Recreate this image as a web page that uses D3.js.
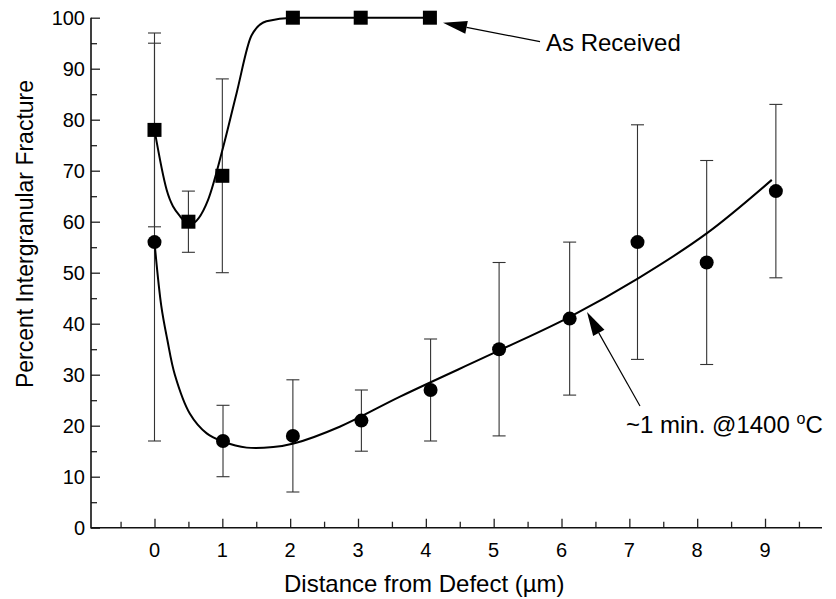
<!DOCTYPE html>
<html>
<head>
<meta charset="utf-8">
<script src="https://cdn.jsdelivr.net/npm/d3@7"></script>
<style>
  body { margin: 0; background: #fff; }
  text { font-family: 'Liberation Sans', Arial, Helvetica, sans-serif; fill: #000; }
</style>
</head>
<body>
<div id="chart"></div>
<script>
// "As Received" squares
const asRecX = [0, 0.5, 1.0, 2.04, 3.04, 4.06]
const asRecY = [78, 60, 69, 100, 100, 100]
const asRecLo = [59, 54, 50, null, null, null]
const asRecHi = [97, 66, 88, null, null, null]

// "~1 min @1400 C" circles
const heatX = [0, 1.01, 2.04, 3.05, 4.07, 5.08, 6.12, 7.12, 8.14, 9.16]
const heatY = [56, 17, 18, 21, 27, 35, 41, 56, 52, 66]
const heatLo = [17, 10, 7, 15, 17, 18, 26, 33, 32, 49]
const heatHi = [95, 24, 29, 27, 37, 52, 56, 79, 72, 83]

// fitted curves
const asRecFitX = [0, 0.18, 0.38, 0.52, 0.79, 1.01, 1.21, 1.43, 1.65, 2.04, 3.04, 4.06]
const asRecFitY = [78, 66.2, 61, 59.5, 64.3, 74.5, 85.2, 96.5, 99.3, 100, 100, 100]
const heatFitX = [0, 0.1, 0.19, 0.3, 0.52, 0.77, 1.01, 1.36, 1.75, 2.05, 2.73, 3.62, 5.09, 6.13, 7.13, 8.14, 9.1]
const heatFitY = [56, 43.5, 36.8, 30, 22.4, 18.5, 16.9, 15.7, 15.8, 16.5, 19.8, 25.7, 34.8, 41.4, 48.9, 57.7, 68.2]

const xTicks = [0, 1, 2, 3, 4, 5, 6, 7, 8, 9]
const xMinor = [-0.5, 0.5, 1.5, 2.5, 3.5, 4.5, 5.5, 6.5, 7.5, 8.5, 9.5]
const yTicks = [0, 10, 20, 30, 40, 50, 60, 70, 80, 90, 100]
const yMinor = [5, 15, 25, 35, 45, 55, 65, 75, 85, 95]

const width = 836
const height = 599

const svg = d3
  .select('#chart')
  .append('svg')
  .attr('width', width)
  .attr('height', height)

const x = d3.scaleLinear().domain([-0.936, 9.84]).range([91, 822])
const y = d3.scaleLinear().domain([0, 100]).range([527.7, 17.7])

// axes
const xAxis = svg.append('g').attr('transform', `translate(0,${y(0)})`)
xAxis
  .call(d3.axisTop(x).tickValues(xTicks).tickSize(9).tickFormat(''))
  .call(g => g.select('.domain').remove())
xAxis
  .append('g')
  .call(d3.axisTop(x).tickValues(xMinor).tickSize(6).tickFormat(''))
  .call(g => g.select('.domain').remove())
xAxis.selectAll('line').attr('stroke', '#222').attr('stroke-width', 1.3)

svg
  .selectAll('.xlab')
  .data(xTicks)
  .enter()
  .append('text')
  .attr('class', 'xlab')
  .attr('x', d => x(d))
  .attr('y', 557)
  .attr('text-anchor', 'middle')
  .attr('font-size', 20)
  .text(d => d)

const yAxis = svg.append('g').attr('transform', `translate(${x.range()[0]},0)`)
yAxis
  .call(d3.axisRight(y).tickValues(yTicks).tickSize(9).tickFormat(''))
  .call(g => g.select('.domain').remove())
yAxis
  .append('g')
  .call(d3.axisRight(y).tickValues(yMinor).tickSize(6).tickFormat(''))
  .call(g => g.select('.domain').remove())
yAxis.selectAll('line').attr('stroke', '#222').attr('stroke-width', 1.3)

svg
  .selectAll('.ylab')
  .data(yTicks)
  .enter()
  .append('text')
  .attr('class', 'ylab')
  .attr('x', 85)
  .attr('y', d => y(d) + 7)
  .attr('text-anchor', 'end')
  .attr('font-size', 20)
  .text(d => d)

// axis lines
svg
  .append('path')
  .attr('d', `M${x.range()[0]},${y(100)}V${y(0)}H${x.range()[1]}`)
  .attr('fill', 'none')
  .attr('stroke', '#111')
  .attr('stroke-width', 1.6)

svg
  .append('text')
  .attr('x', 284)
  .attr('y', 592)
  .attr('font-size', 24)
  .text('Distance from Defect (\u00b5m)')

svg
  .append('text')
  .attr('transform', 'translate(33,234) rotate(-90)')
  .attr('text-anchor', 'middle')
  .attr('font-size', 23)
  .text('Percent Intergranular Fracture')

// error bars
function errorBars(xs, lo, hi) {
  const rows = xs.map((d, i) => ({ x: d, lo: lo[i], hi: hi[i] })).filter(d => d.lo != null)
  const g = svg.append('g').attr('stroke', '#333').attr('stroke-width', 1.1)
  g.selectAll('.bar')
    .data(rows)
    .enter()
    .append('line')
    .attr('x1', d => x(d.x))
    .attr('x2', d => x(d.x))
    .attr('y1', d => y(d.lo))
    .attr('y2', d => y(d.hi))
  g.selectAll('.capl')
    .data(rows)
    .enter()
    .append('line')
    .attr('x1', d => x(d.x) - 6.5)
    .attr('x2', d => x(d.x) + 6.5)
    .attr('y1', d => y(d.lo))
    .attr('y2', d => y(d.lo))
  g.selectAll('.caph')
    .data(rows)
    .enter()
    .append('line')
    .attr('x1', d => x(d.x) - 6.5)
    .attr('x2', d => x(d.x) + 6.5)
    .attr('y1', d => y(d.hi))
    .attr('y2', d => y(d.hi))
}
errorBars(asRecX, asRecLo, asRecHi)
errorBars(heatX, heatLo, heatHi)

// fitted curves
const line = d3
  .line()
  .x(d => x(d[0]))
  .y(d => y(d[1]))
  .curve(d3.curveMonotoneX)

svg
  .append('path')
  .datum(asRecFitX.map((d, i) => [d, asRecFitY[i]]))
  .attr('d', line)
  .attr('fill', 'none')
  .attr('stroke', '#000')
  .attr('stroke-width', 2)

svg
  .append('path')
  .datum(heatFitX.map((d, i) => [d, heatFitY[i]]))
  .attr('d', line.curve(d3.curveCatmullRom.alpha(0.5)))
  .attr('fill', 'none')
  .attr('stroke', '#000')
  .attr('stroke-width', 2)

// markers
svg
  .selectAll('.sq')
  .data(asRecX.map((d, i) => [d, asRecY[i]]))
  .enter()
  .append('rect')
  .attr('x', d => x(d[0]) - 7)
  .attr('y', d => y(d[1]) - 7)
  .attr('width', 14)
  .attr('height', 14)
  .attr('fill', '#000')

svg
  .selectAll('.dot')
  .data(heatX.map((d, i) => [d, heatY[i]]))
  .enter()
  .append('circle')
  .attr('cx', d => x(d[0]))
  .attr('cy', d => y(d[1]))
  .attr('r', 7)
  .attr('fill', '#000')

// annotations
function arrow(x1, y1, x2, y2) {
  const a = Math.atan2(y2 - y1, x2 - x1)
  const len = 24
  const w = 6.5
  const bx = x2 - len * Math.cos(a)
  const by = y2 - len * Math.sin(a)
  svg
    .append('line')
    .attr('x1', x1)
    .attr('y1', y1)
    .attr('x2', bx)
    .attr('y2', by)
    .attr('stroke', '#000')
    .attr('stroke-width', 1.2)
  svg
    .append('path')
    .attr(
      'd',
      `M${x2},${y2}L${bx + w * Math.sin(a)},${by - w * Math.cos(a)}L${bx - w * Math.sin(a)},${by + w * Math.cos(a)}Z`
    )
    .attr('fill', '#000')
}

arrow(540, 41.7, 443, 22.7)
svg
  .append('text')
  .attr('x', 546)
  .attr('y', 51)
  .attr('font-size', 24)
  .text('As Received')

arrow(640, 406, 587, 312)
const t = svg
  .append('text')
  .attr('x', 626)
  .attr('y', 433)
  .attr('font-size', 24)
t.append('tspan').text('~1 min. @1400 ')
t.append('tspan').attr('font-size', 16).attr('dy', -9).text('o')
t.append('tspan').attr('dy', 9).text('C')
</script>
</body>
</html>
